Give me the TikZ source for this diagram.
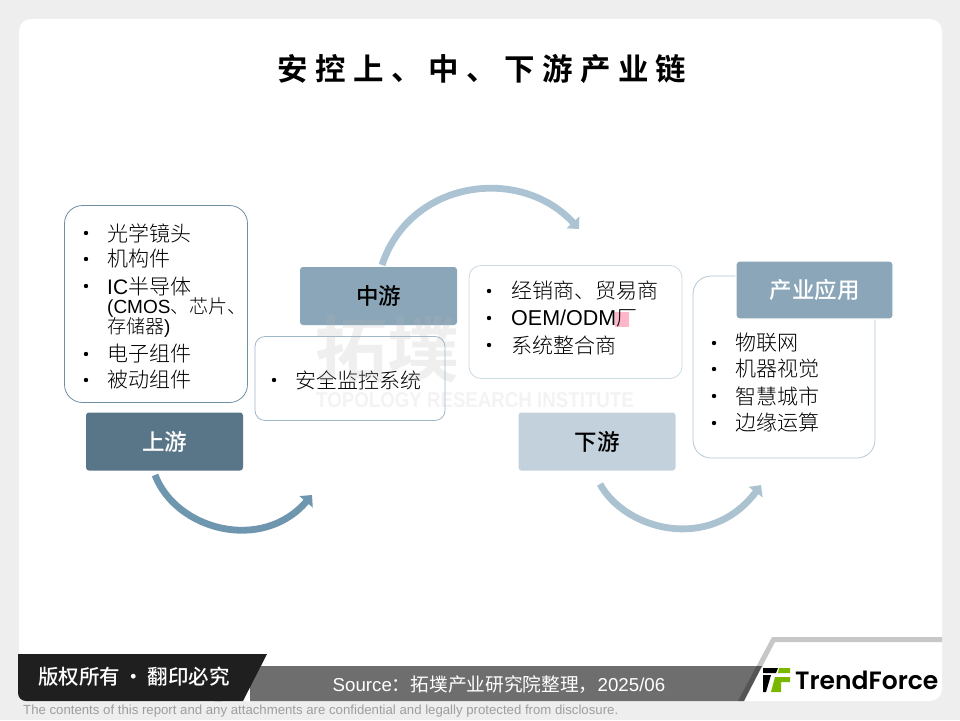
\documentclass[tikz,border=0pt]{standalone}
\usepackage{fontspec}
\usetikzlibrary{arrows.meta}
\setmainfont{Liberation Sans}
\newfontfamily\cjk{Noto Sans CJK SC}
\newfontfamily\cjkb{Noto Sans CJK SC Bold}
\newfontfamily\cjkm{Noto Sans CJK SC Medium}
\newfontfamily\cjkl{Noto Sans CJK SC Light}
\newfontfamily\cjkt[LetterSpace=24]{Noto Sans CJK SC Bold}
\newfontfamily\logofont{Poppins SemiBold}
\definecolor{pagebg}{HTML}{EEEEEE}
\definecolor{upc}{HTML}{597689}
\definecolor{midc}{HTML}{8AA6B8}
\definecolor{lowc}{HTML}{C3D1DD}
\definecolor{upline}{HTML}{6F8FA5}
\definecolor{midline}{HTML}{A0B8C8}
\definecolor{lowline}{HTML}{CCDAE4}
\definecolor{appline}{HTML}{B4C8D6}
\definecolor{upar}{HTML}{6E97AF}
\definecolor{midar}{HTML}{ABC3D2}
\definecolor{lowar}{HTML}{ABC2D1}
\definecolor{logogreen}{HTML}{7AB800}
\definecolor{marker}{HTML}{FFB6C8}
\tikzset{
 listbox/.style={draw,rounded corners=#1,fill=white,line width=.8pt,inner sep=0pt},
 head/.style={rounded corners=3pt,font=\cjkm\fontsize{22.5}{22.5}\selectfont,inner sep=0pt,minimum width=157pt,minimum height=58pt},
 flow/.style={line width=6.8pt,-{Triangle[length=9pt,width=17pt]}},
 item/.style={anchor=west,inner sep=0pt,font=\cjkl\fontsize{21}{21}\selectfont},
 subitem/.style={anchor=west,inner sep=0pt,font=\cjkl\fontsize{19}{19}\selectfont},
 bullet/.style={circle,fill=black,inner sep=0pt,minimum size=4.4pt},
 wmark/.style={inner sep=0pt,text=black!28,opacity=.22},
}
\newcommand{\latinpart}[1]{{\fontspec{Liberation Sans}#1}}
\begin{document}
\begin{tikzpicture}[x=1pt,y=-1pt]
\useasboundingbox (0,0) rectangle (960,720);
\fill[pagebg] (0,0) rectangle (960,720);
\fill[white,rounded corners=12pt] (19,19) rectangle (942,701);
% title
\node[inner sep=0pt,font=\cjkt\fontsize{30.5}{30.5}\selectfont] (title) at (482,69) {安控上、中、下游产业链};
% list boxes
\node[listbox=18pt,draw=upline,minimum width=183pt,minimum height=197pt] (ubox) at (156,304) {};
\node[listbox=10pt,draw=midline,minimum width=190pt,minimum height=84pt] (mbox) at (350,378.5) {};
\node[listbox=12pt,draw=lowline,minimum width=213pt,minimum height=113pt] (dbox) at (575.5,322) {};
\node[listbox=18pt,draw=appline,minimum width=182pt,minimum height=182pt] (abox) at (784,367) {};
% headers
\node[head,fill=upc,text=white] (up) at (164.5,441.5) {上游};
\node[head,fill=midc,text=black] (mid) at (378.5,296) {中游};
\node[head,fill=lowc,text=black] (low) at (597,441.5) {下游};
\node[head,fill=midc,text=white,draw=white,line width=1.4pt] (app) at (814.5,290) {产业应用};
% flow arrows
\coordinate (u1) at (155,475); \coordinate (u2) at (312,495);
\coordinate (m1) at (382,265); \coordinate (m2) at (579,229);
\coordinate (l1) at (600,484); \coordinate (l2) at (761,485);
\draw[flow,draw=upar] (u1) .. controls (176,530) and (262,553) .. (u2);
\draw[flow,draw=midar] (m1) .. controls (410,180) and (520,165) .. (m2);
\draw[flow,draw=lowar] (l1) .. controls (625,530) and (710,553) .. (l2);
% items upstream
\foreach \nm/\yy/\tx in {a/233/光学镜头,b/259/机构件,d/354/电子组件,e/380/被动组件}{
 \node[bullet] (b\nm) at (86,\yy) {};
 \node[item] (t\nm) at (107,\yy) {\tx};
}
\node[bullet] (bc) at (86,286) {};
\node[item] (tc) at (107,286) {\latinpart{IC}半导体};
\node[subitem] (tc2) at (107,308) {\latinpart{(CMOS}、芯片、};
\node[subitem] (tc3) at (107,328) {存储器\latinpart{)}};
% mid
\node[bullet] (bm) at (274,380) {};
\node[item] (tm) at (295,380) {安全监控系统};
% downstream
\fill[marker] (615,312) rectangle (628.5,327);
\node[bullet] (bf) at (489,291) {};
\node[item] (tf) at (511,291) {经销商、贸易商};
\node[bullet] (bg) at (489,318) {};
\node[item] (tg) at (511,318) {\latinpart{\fontsize{21.5}{21.5}\selectfont OEM/ODM}厂};
\node[bullet] (bh) at (489,345) {};
\node[item] (th) at (511,345) {系统整合商};
% application
\foreach \nm/\yy/\tx in {i/343/物联网,j/369/机器视觉,k/396/智慧城市,l/423/边缘运算}{
 \node[bullet] (b\nm) at (714,\yy) {};
 \node[item] (t\nm) at (735,\yy) {\tx};
}
% watermark
\node[wmark,font=\cjkb\fontsize{72}{72}\selectfont] (wm1) at (387,349) {拓墣};
\node[wmark,opacity=.16,xscale=.87,font=\bfseries\fontsize{21.5}{21.5}\selectfont] (wm2) at (475,400) {TOPOLOGY RESEARCH INSTITUTE};
% footer
\fill[black!57] (250,666) -- (762,666) -- (744,701) -- (250,701) -- cycle;
\fill[black,opacity=.22] (738,701) -- (772,637) -- (942,637) -- (942,642) -- (775,642) -- (744,701) -- cycle;
\fill[black!88,rounded corners=8pt] (18,654) -- (18,701) -- (230,701) -- (240,654) -- cycle;
\fill[black!88] (225,654) -- (267,654) -- (243,701) -- (215,701) -- cycle;
\fill[black!88] (18,654) rectangle (40,670);
\node[inner sep=0pt,text=white,font=\cjkm\fontsize{20.5}{20.5}\selectfont] (cp) at (134,676.5) {版权所有\,·\,翻印必究};
\node[inner sep=0pt,text=white,font=\fontsize{18.7}{18.7}\selectfont] (src) at (499,685) {Source{\cjk：拓墣产业研究院整理，}2025/06};
\node[inner sep=0pt,anchor=west,text=black!38,font=\fontsize{13.2}{13.2}\selectfont] (foot) at (23,711.5) {The contents of this report and any attachments are confidential and legally protected from disclosure.};
% logo
\fill[black] (763,668) -- (778,668) -- (776,673) -- (763,673) -- cycle;
\fill[black] (763,675) -- (771,675) -- (766,692) -- (763,692) -- cycle;
\fill[logogreen] (779,668) -- (790,668) -- (790,673) -- (778,673) -- cycle;
\fill[logogreen] (775,677) -- (790,677) -- (790,682) -- (781,682) -- (781,692) -- (771,692) -- cycle;
\node[inner sep=0pt,anchor=west,text=black,font=\logofont\fontsize{25}{25}\selectfont] (logo) at (795,680.5) {TrendForce};
\end{tikzpicture}
\end{document}
